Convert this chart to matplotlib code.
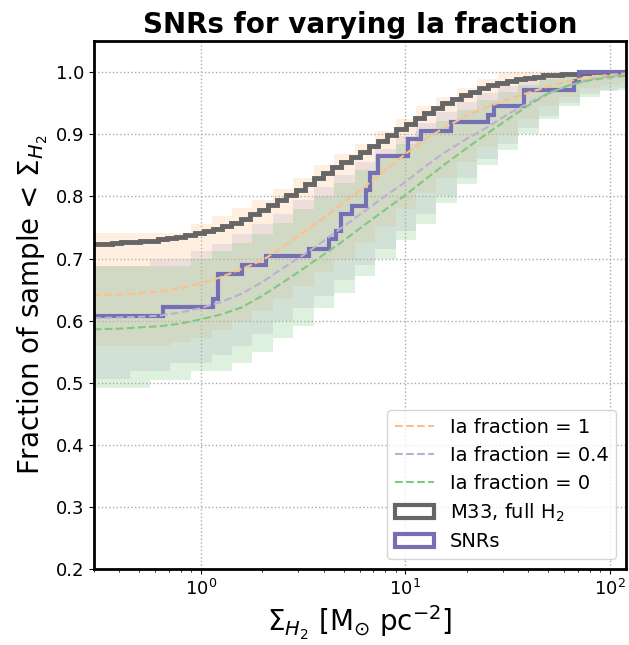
import matplotlib
matplotlib.use("Agg")
import matplotlib.pyplot as plt
from matplotlib.patches import Patch
from matplotlib.lines import Line2D
import numpy as np

# M33 full H2 cumulative curve (fine log bins)
m33_edges = np.logspace(np.log10(0.3), np.log10(120), 59)
m33_frac = [0.724, 0.724, 0.725, 0.726, 0.727, 0.728, 0.729, 0.731, 0.733, 0.735,
            0.738, 0.741, 0.744, 0.748, 0.752, 0.758, 0.764, 0.771, 0.778, 0.786,
            0.794, 0.802, 0.811, 0.820, 0.829, 0.838, 0.847, 0.855, 0.863, 0.872,
            0.881, 0.890, 0.899, 0.908, 0.917, 0.926, 0.934, 0.942, 0.950, 0.957,
            0.963, 0.969, 0.975, 0.979, 0.983, 0.986, 0.989, 0.991, 0.993, 0.995,
            0.996, 0.997, 0.998, 0.999, 1.0, 1.0, 1.0, 1.0]

# SNR cumulative step curve
snr_edges = [0.3, 0.652, 1.15, 1.21, 1.6, 2.09, 3.4, 4.26, 4.6, 4.85, 5.5, 6.44,
             6.7, 7.34, 10.3, 12.0, 16.8, 25.3, 27.3, 38.3, 67.2, 70.5, 120]
snr_frac = [0.607, 0.622, 0.634, 0.675, 0.689, 0.704, 0.716, 0.731, 0.744, 0.771,
            0.784, 0.811, 0.838, 0.865, 0.893, 0.906, 0.920, 0.932, 0.945, 0.972,
            0.986, 1.0]

# model curves for different Ia fractions
sigma = [0.3, 0.4, 0.5, 0.63, 0.79, 1.0, 1.26, 1.58, 2.0, 2.51, 3.16, 3.98, 5.01,
         6.31, 7.94, 10, 12.6, 15.8, 20, 25.1, 31.6, 39.8, 50.1, 63.1, 79.4, 100, 120]

med_1 = [0.641, 0.642, 0.644, 0.647, 0.652, 0.660, 0.670, 0.683, 0.697, 0.718, 0.742,
         0.765, 0.790, 0.815, 0.842, 0.868, 0.893, 0.912, 0.930, 0.944, 0.956, 0.967,
         0.977, 0.986, 0.992, 0.996, 0.998]
lo_1 = [0.559, 0.559, 0.559, 0.559, 0.566, 0.572, 0.585, 0.600, 0.615, 0.635, 0.655,
        0.678, 0.700, 0.725, 0.750, 0.780, 0.805, 0.830, 0.855, 0.880, 0.900, 0.925,
        0.945, 0.960, 0.975, 0.980, 0.982]
hi_1 = [0.741, 0.741, 0.741, 0.741, 0.741, 0.755, 0.768, 0.781, 0.795, 0.812, 0.830,
        0.850, 0.868, 0.885, 0.905, 0.925, 0.945, 0.960, 0.975, 0.990, 1.0, 1.0,
        1.0, 1.0, 1.0, 1.0, 1.0]

med_04 = [0.604, 0.605, 0.606, 0.608, 0.613, 0.620, 0.630, 0.643, 0.662, 0.684, 0.705,
          0.728, 0.752, 0.776, 0.800, 0.823, 0.849, 0.872, 0.893, 0.911, 0.932, 0.950,
          0.966, 0.979, 0.988, 0.994, 0.996]
lo_04 = [0.506, 0.506, 0.519, 0.519, 0.532, 0.532, 0.545, 0.559, 0.578, 0.600, 0.620,
         0.640, 0.665, 0.690, 0.715, 0.745, 0.772, 0.800, 0.830, 0.860, 0.885, 0.910,
         0.930, 0.950, 0.965, 0.972, 0.975]
hi_04 = [0.688, 0.688, 0.688, 0.700, 0.700, 0.712, 0.723, 0.740, 0.755, 0.772, 0.795,
         0.815, 0.835, 0.855, 0.876, 0.897, 0.918, 0.936, 0.952, 0.966, 0.978, 0.988,
         0.995, 1.0, 1.0, 1.0, 1.0]

med_0 = [0.586, 0.587, 0.589, 0.591, 0.595, 0.602, 0.610, 0.621, 0.640, 0.661, 0.683,
         0.706, 0.729, 0.754, 0.778, 0.802, 0.828, 0.853, 0.878, 0.901, 0.924, 0.946,
         0.966, 0.979, 0.987, 0.992, 0.994]
lo_0 = [0.492, 0.492, 0.492, 0.505, 0.505, 0.519, 0.519, 0.532, 0.550, 0.572, 0.592,
        0.620, 0.645, 0.672, 0.700, 0.730, 0.755, 0.790, 0.820, 0.850, 0.875, 0.900,
        0.925, 0.945, 0.960, 0.970, 0.972]
hi_0 = [0.688, 0.688, 0.688, 0.688, 0.688, 0.700, 0.712, 0.725, 0.740, 0.758, 0.780,
        0.800, 0.822, 0.843, 0.865, 0.885, 0.905, 0.922, 0.940, 0.955, 0.968, 0.980,
        0.990, 0.995, 1.0, 1.0, 1.0]

c_orange = '#fdc086'
c_purple = '#beaed4'
c_green = '#7fc97f'
c_gray = '#666666'
c_snr = '#7570b3'

fig, ax = plt.subplots(figsize=(6.29, 6.45), dpi=100)
fig.subplots_adjust(left=0.149, right=0.995, bottom=0.118, top=0.936)

for lo, hi, c in [(lo_1, hi_1, c_orange), (lo_04, hi_04, c_purple), (lo_0, hi_0, c_green)]:
    ax.fill_between(sigma, lo, hi, step='mid', color=c, alpha=0.25, lw=0)

ax.plot(sigma, med_1, '--', color=c_orange, lw=1.5)
ax.plot(sigma, med_04, '--', color=c_purple, lw=1.5)
ax.plot(sigma, med_0, '--', color=c_green, lw=1.5)

ax.stairs(m33_frac, m33_edges, baseline=None, color=c_gray, lw=3.5)
ax.stairs(snr_frac, snr_edges, baseline=None, color=c_snr, lw=3)

ax.set_xscale('log')
ax.set_xlim(0.3, 120)
ax.set_ylim(0.2, 1.05)
ax.set_yticks(np.arange(0.2, 1.01, 0.1))
ax.grid(True, which='major', ls=':', color='#aaaaaa', lw=1)
ax.set_axisbelow(True)
for s in ax.spines.values():
    s.set_linewidth(2)
ax.tick_params(labelsize=13)

ax.set_title('SNRs for varying Ia fraction', fontsize=20, fontweight='bold')
ax.set_xlabel(r'$\Sigma_{H_2}$ [M$_{\odot}$ pc$^{-2}$]', fontsize=20)
ax.set_ylabel(r'Fraction of sample < $\Sigma_{H_2}$', fontsize=20)

handles = [Line2D([], [], ls='--', color=c_orange, lw=1.5),
           Line2D([], [], ls='--', color=c_purple, lw=1.5),
           Line2D([], [], ls='--', color=c_green, lw=1.5),
           Patch(facecolor='white', edgecolor=c_gray, lw=3),
           Patch(facecolor='white', edgecolor=c_snr, lw=3)]
labels = ['Ia fraction = 1', 'Ia fraction = 0.4', 'Ia fraction = 0',
          'M33, full H$_2$', 'SNRs']
ax.legend(handles, labels, loc='lower right', fontsize=14, labelspacing=0.45)

fig.savefig('out.png', dpi=100)
